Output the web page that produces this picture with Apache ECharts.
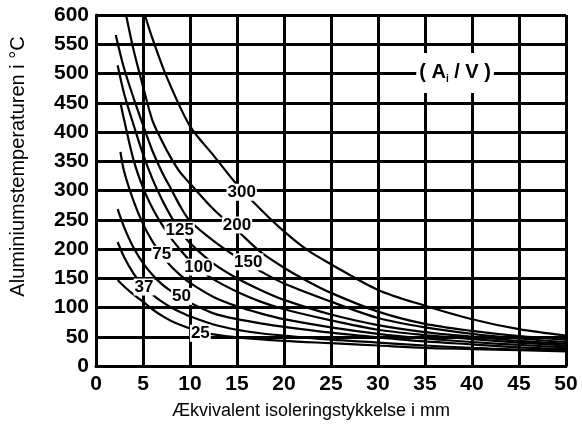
<!DOCTYPE html>
<html><head><meta charset="utf-8">
<script src="https://cdn.jsdelivr.net/npm/echarts@6/dist/echarts.min.js"></script>
<style>html,body{margin:0;padding:0;background:#fff}#c{width:582px;height:432px}</style>
</head><body><div id="c"></div>
<script>
// A/V curves: [thickness mm, temperature °C]
const c300 = [[5.2,600],[6,560],[7.5,495],[10,410],[12.5,360],[15,310],[17.5,268],[20,230],[22.5,198],[25,174],[30,130],[35,103],[40,80],[45,63],[50,52]];
const c200 = [[3.2,600],[4,540],[5,478],[6,420],[7,385],[8,355],[9,330],[10,312],[12.5,268],[15,232],[17.5,195],[20,168],[22.5,145],[25,125],[30,93],[35,72],[40,60],[45,51],[50,45]];
const c150 = [[2.1,566],[3,508],[4,458],[5,412],[6,368],[7,332],[8,302],[9,272],[10,248],[12.5,214],[15,186],[17.5,162],[20,141],[25,110],[30,82],[35,66],[40,55],[45,47],[50,41]];
const c125 = [[2.3,514],[3,465],[4,412],[5,362],[6,320],[7,285],[8,255],[9,230],[10,210],[12.5,175],[15,150],[17.5,130],[20,113],[25,88],[30,70],[35,58],[40,50],[45,43],[50,38]];
const c100 = [[2.6,450],[3,420],[4,352],[5,305],[6,270],[7,242],[8,218],[9,198],[10,180],[11,165],[12.5,148],[15,127],[17.5,110],[20,97],[25,78],[30,62],[35,53],[40,46],[45,40],[50,35]];
const c75  = [[2.6,366],[3,332],[4,282],[5,243],[6,213],[7,190],[8,170],[9,155],[10,142],[12.5,118],[15,102],[17.5,90],[20,80],[25,66],[30,55],[35,47],[40,41],[45,36],[50,32]];
const c50  = [[2.3,268],[3,237],[4,202],[5,176],[6,156],[7,140],[8,128],[9,118],[10,108],[12.5,90],[15,80],[17.5,73],[20,67],[25,57],[30,49],[35,42],[40,37],[45,32],[50,29]];
const c37  = [[2.3,212],[3,186],[4,158],[5,137],[6,122],[7,110],[8,100],[9,92],[10,85],[12.5,71],[15,62],[17.5,56],[20,52],[25,45],[30,40],[35,35],[40,31],[45,28],[50,27]];
const c25  = [[2.3,147],[3,136],[4,122],[5,110],[6,97],[7,86],[8,77],[9,70],[10,64],[11,59],[12.5,54],[15,49],[20,43],[25,39],[30,35],[35,31],[40,29],[45,27],[50,25]];
const curves = [c300,c200,c150,c125,c100,c75,c50,c37,c25];
// curve labels placed on the curves: [x, y, text]
const curveLabels = [[15.5,297,'300'],[15,241,'200'],[16.2,178,'150'],[8.9,232,'125'],[10.9,169,'100'],[7.0,191,'75'],[9.1,119,'50'],[5.1,135,'37'],[11.1,56,'25']];
const ratioLabel = [[38.2,501]];
const xTicks = {min:0,max:50,interval:5};
const yTicks = {min:0,max:600,interval:50};

const chart = echarts.init(document.getElementById('c'));
const series = curves.map(d => ({type:'line',data:d,smooth:0.3,showSymbol:false,
  lineStyle:{color:'#000',width:2.2},z:3,silent:true}));
series.push({type:'scatter',data:curveLabels.map(l=>({value:[l[0],l[1]],name:l[2]})),symbolSize:0,z:5,silent:true,
  itemStyle:{color:'#fff',opacity:1},
  label:{show:true,position:'inside',formatter:p=>p.name,color:'#000',opacity:1,fontFamily:'Liberation Sans',fontWeight:'bold',fontSize:17,
    textBorderWidth:0,textShadowBlur:0,backgroundColor:'#fff',padding:[0,1,0,1]}});
series.push({type:'scatter',data:ratioLabel,symbolSize:0,z:5,silent:true,itemStyle:{color:'#fff',opacity:1},
  label:{show:true,position:'inside',formatter:'( A{s|i} / V )',color:'#000',opacity:1,fontFamily:'Liberation Sans',fontWeight:'bold',fontSize:20,
    textBorderWidth:0,backgroundColor:'#fff',padding:[9,3,9,3],
    rich:{s:{fontSize:10,fontWeight:'bold',color:'#000',textBorderWidth:0,verticalAlign:'bottom',padding:[12,0,0,0],fontFamily:'Liberation Sans'}}}});

chart.setOption({
  animation:false,
  grid:{left:96,right:16,top:15,bottom:66},
  xAxis:{type:'value',min:xTicks.min,max:xTicks.max,interval:xTicks.interval,
    name:'Ækvivalent isoleringstykkelse i mm',nameLocation:'middle',nameGap:36,
    nameTextStyle:{fontFamily:'Liberation Sans',fontSize:18,color:'#000',padding:[0,40,0,0]},
    axisLine:{show:true,lineStyle:{color:'#000',width:3}},axisTick:{show:false},
    axisLabel:{fontFamily:'Liberation Sans',fontWeight:'bold',fontSize:21,color:'#000',margin:8},
    splitLine:{show:true,lineStyle:{color:'#000',width:3}}},
  yAxis:{type:'value',min:yTicks.min,max:yTicks.max,interval:yTicks.interval,
    name:'Aluminiumstemperaturen i °C',nameLocation:'middle',nameGap:68,
    nameTextStyle:{fontFamily:'Liberation Sans',fontSize:20,color:'#000',padding:[0,0,0,48]},
    axisLine:{show:true,lineStyle:{color:'#000',width:3}},axisTick:{show:false},
    axisLabel:{fontFamily:'Liberation Sans',fontWeight:'bold',fontSize:21,color:'#000',margin:7},
    splitLine:{show:true,lineStyle:{color:'#000',width:3}}},
  series:series
});
</script></body></html>
